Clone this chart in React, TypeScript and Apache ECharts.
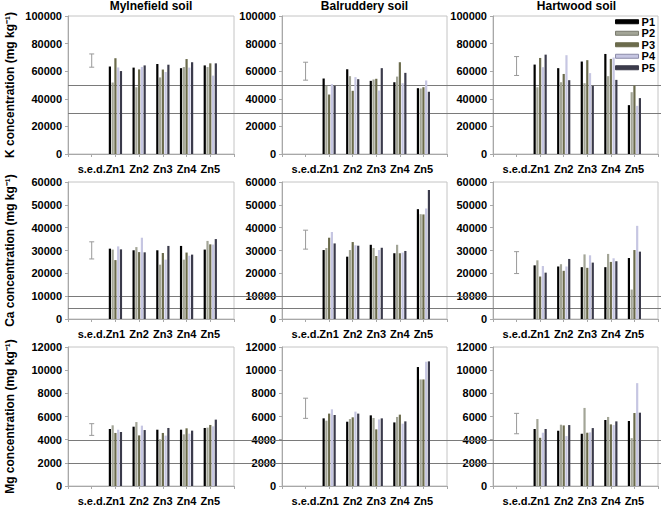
import React, { useEffect, useRef } from 'react';
import * as echarts from 'echarts';

const categories = ['', 's.e.d.', 'Zn1', 'Zn2', 'Zn3', 'Zn4', 'Zn5', ''];
const seriesNames = ['P1', 'P2', 'P3', 'P4', 'P5'];
const soils = ['Mylnefield soil', 'Balruddery soil', 'Hartwood soil'];
const yTitles = ['K concentration (mg kg⁻¹)', 'Ca concentration (mg kg⁻¹)', 'Mg concentration (mg kg⁻¹)'];
const yMax = [100000, 60000, 12000];
const yInterval = [20000, 10000, 2000];
const refLines = [[50000, 30000], [10000, 5000], [4000, 2000]];

// Each panel: rows P1..P5, columns Zn1..Zn5
const kMylnefield = [
  [63400, 62600, 65200, 62200, 64200],
  [51800, 48400, 55500, 63000, 63000],
  [69400, 61300, 61200, 68800, 65700],
  [62700, 63100, 59400, 62600, 56800],
  [60100, 64200, 64700, 66500, 65700],
];
const kBalruddery = [
  [54700, 61400, 53000, 52000, 47700],
  [49400, 56400, 54000, 56100, 47500],
  [43100, 45800, 54500, 66500, 48400],
  [50600, 55700, 46000, 51300, 53300],
  [49400, 54200, 62200, 58800, 45100],
];
const kHartwood = [
  [64800, 62200, 67000, 72500, 35400],
  [48400, 52000, 51300, 56400, 44800],
  [69600, 58000, 68000, 68900, 49600],
  [62900, 71600, 58600, 69900, 34900],
  [72000, 53500, 49400, 53700, 40500],
];
const caMylnefield = [
  [30800, 30100, 30100, 32000, 30400],
  [30400, 31500, 23800, 26000, 34200],
  [25800, 29300, 28900, 29100, 32700],
  [31800, 35600, 26000, 27700, 32600],
  [30500, 29200, 32000, 28200, 35000],
];
const caBalruddery = [
  [30200, 27300, 32500, 28800, 48100],
  [31100, 30200, 31100, 32500, 45900],
  [35600, 33700, 27600, 28800, 45800],
  [38100, 32300, 30200, 29100, 48400],
  [33100, 32100, 31200, 29800, 56500],
];
const caHartwood = [
  [23500, 23000, 22700, 22700, 26700],
  [25700, 24000, 28300, 28500, 12900],
  [18600, 21100, 22400, 25000, 30200],
  [23200, 23000, 27900, 26600, 40800],
  [20300, 26300, 24700, 25300, 29500],
];
const mgMylnefield = [
  [4920, 5120, 4860, 4860, 5010],
  [5240, 5520, 4030, 4460, 5040],
  [4580, 4370, 4580, 4980, 5270],
  [4860, 5210, 4350, 4520, 5150],
  [4660, 4830, 5010, 4780, 5730],
];
const mgBalruddery = [
  [5840, 5550, 6100, 5490, 10270],
  [5640, 5780, 5870, 5960, 9200],
  [6250, 5930, 4890, 6160, 9200],
  [6620, 6420, 5750, 5380, 10730],
  [6130, 6250, 5840, 5580, 10760],
];
const mgHartwood = [
  [4920, 4770, 4510, 5700, 5610],
  [5780, 5290, 6740, 5960, 4130],
  [4160, 5230, 4600, 5320, 6300],
  [4600, 4310, 4630, 5260, 8880],
  [4920, 5260, 5000, 5580, 6330],
];
// s.e.d. bars: [low, high] for each soil
const sedK = [[62900, 72500], [53500, 66500], [56900, 70600]];
const sedCa = [[26300, 33800], [30600, 38900], [19900, 29500]];
const sedMg = [[4370, 5380], [5840, 7580], [4510, 6270]];

const panels = [
  [kMylnefield, kBalruddery, kHartwood],
  [caMylnefield, caBalruddery, caHartwood],
  [mgMylnefield, mgBalruddery, mgHartwood],
];
const seds = [sedK, sedCa, sedMg];

const colors = ['#000000', '#a3a597', '#6b6b4c', '#c6c6e2', '#3b3b4b'];
const FONT = '"Liberation Sans", Arial, sans-serif';
const gridLefts = [68, 282, 493];
const gridWidths = [166, 165, 167];
const gridTops = [16, 182, 347];
const gridHeights = [138, 137, 139];

export default function App() {
  const ref = useRef<HTMLDivElement>(null);
  useEffect(() => {
    if (!ref.current) return;
    const chart = echarts.init(ref.current, undefined, { renderer: 'svg' });
    const grids: any[] = [];
    const xAxes: any[] = [];
    const yAxes: any[] = [];
    const series: any[] = [];
    for (let r = 0; r < 3; r++) {
      for (let c = 0; c < 3; c++) {
        const idx = r * 3 + c;
        grids.push({
          left: gridLefts[c], top: gridTops[r], width: gridWidths[c], height: gridHeights[r],
          show: true, borderColor: '#c4c4c4', borderWidth: 1, containLabel: false,
        });
        xAxes.push({
          type: 'category', gridIndex: idx, data: categories, boundaryGap: false,
          axisLine: { lineStyle: { color: '#a8a8a8' } },
          axisTick: { show: true, length: 3, lineStyle: { color: '#a8a8a8' } },
          axisLabel: { interval: 0, margin: 9, color: '#000', fontWeight: 'bold', fontSize: 11, fontFamily: FONT },
          splitLine: { show: false },
        });
        yAxes.push({
          type: 'value', gridIndex: idx, min: 0, max: yMax[r], interval: yInterval[r],
          name: c === 0 ? yTitles[r] : '', nameLocation: 'middle', nameRotate: 90, nameGap: 52,
          nameTextStyle: { color: '#000', fontWeight: 'bold', fontSize: 12, fontFamily: FONT },
          axisLine: { show: true, lineStyle: { color: '#a8a8a8' } },
          axisTick: { show: true, length: 3, lineStyle: { color: '#a8a8a8' } },
          axisLabel: {
            margin: 6, color: '#000', fontWeight: 'bold', fontSize: 11, fontFamily: FONT,
            formatter: (v: number) => String(v),
          },
          splitLine: { show: false },
        });
        const panel = panels[r][c];
        panel.forEach((vals, p) => {
          series.push({
            type: 'bar', name: seriesNames[p], xAxisIndex: idx, yAxisIndex: idx,
            data: [null, null, ...vals, null],
            itemStyle: { color: colors[p] },
            barGap: '25%', barCategoryGap: '44%',
          });
        });
        const sed = seds[r][c];
        series.push({
          type: 'custom', name: 'sed', xAxisIndex: idx, yAxisIndex: idx,
          encode: { x: 0, y: [1, 2] },
          data: [[1, sed[0], sed[1]]],
          renderItem: (params: any, api: any) => {
            const lo = api.coord([api.value(0), api.value(1)]);
            const hi = api.coord([api.value(0), api.value(2)]);
            const cap = 2.5;
            const style = { stroke: '#9a9a9a', lineWidth: 1 };
            return {
              type: 'group',
              children: [
                { type: 'line', shape: { x1: lo[0], y1: lo[1], x2: hi[0], y2: hi[1] }, style },
                { type: 'line', shape: { x1: lo[0] - cap, y1: lo[1], x2: lo[0] + cap, y2: lo[1] }, style },
                { type: 'line', shape: { x1: hi[0] - cap, y1: hi[1], x2: hi[0] + cap, y2: hi[1] }, style },
              ],
            };
          },
        });
      }
    }
    const legendData = seriesNames.map((n, i) => ({
      name: n,
      itemStyle: { color: colors[i], borderColor: i === 1 ? '#77786c' : i === 3 ? '#8a8aa8' : colors[i], borderWidth: 1 },
    }));
    chart.setOption({
      animation: false,
      backgroundColor: '#ffffff',
      title: soils.map((s, i) => ({
        text: s, left: gridLefts[i] + gridWidths[i] / 2, top: 0, textAlign: 'center', padding: 0,
        textStyle: { fontSize: 12, fontWeight: 'bold', color: '#000', fontFamily: FONT },
      })),
      legend: {
        orient: 'vertical', right: 6, top: 16, padding: 0, itemWidth: 23, itemHeight: 4, itemGap: 0,
        icon: 'rect', data: legendData,
        textStyle: { fontSize: 11, fontWeight: 'bold', color: '#000', fontFamily: FONT, lineHeight: 11.5, padding: [0, 0, 0, -2] },
      },
      grid: grids,
      xAxis: xAxes,
      yAxis: yAxes,
      series,
    });
    const lines: any[] = [];
    for (let r = 0; r < 3; r++) {
      refLines[r].forEach((v) => {
        const y = Math.round(chart.convertToPixel({ yAxisIndex: r * 3 } as any, v) as any) + 0.5;
        lines.push({
          type: 'line', z: 1, silent: true,
          shape: { x1: gridLefts[0], y1: y, x2: 661, y2: y },
          style: { stroke: '#7a7a7a', lineWidth: 1 },
        });
      });
    }
    chart.setOption({ graphic: lines });
    return () => chart.dispose();
  }, []);
  return <div ref={ref} style={{ position: 'fixed', left: 0, top: 0, width: 661, height: 506 }} />;
}
